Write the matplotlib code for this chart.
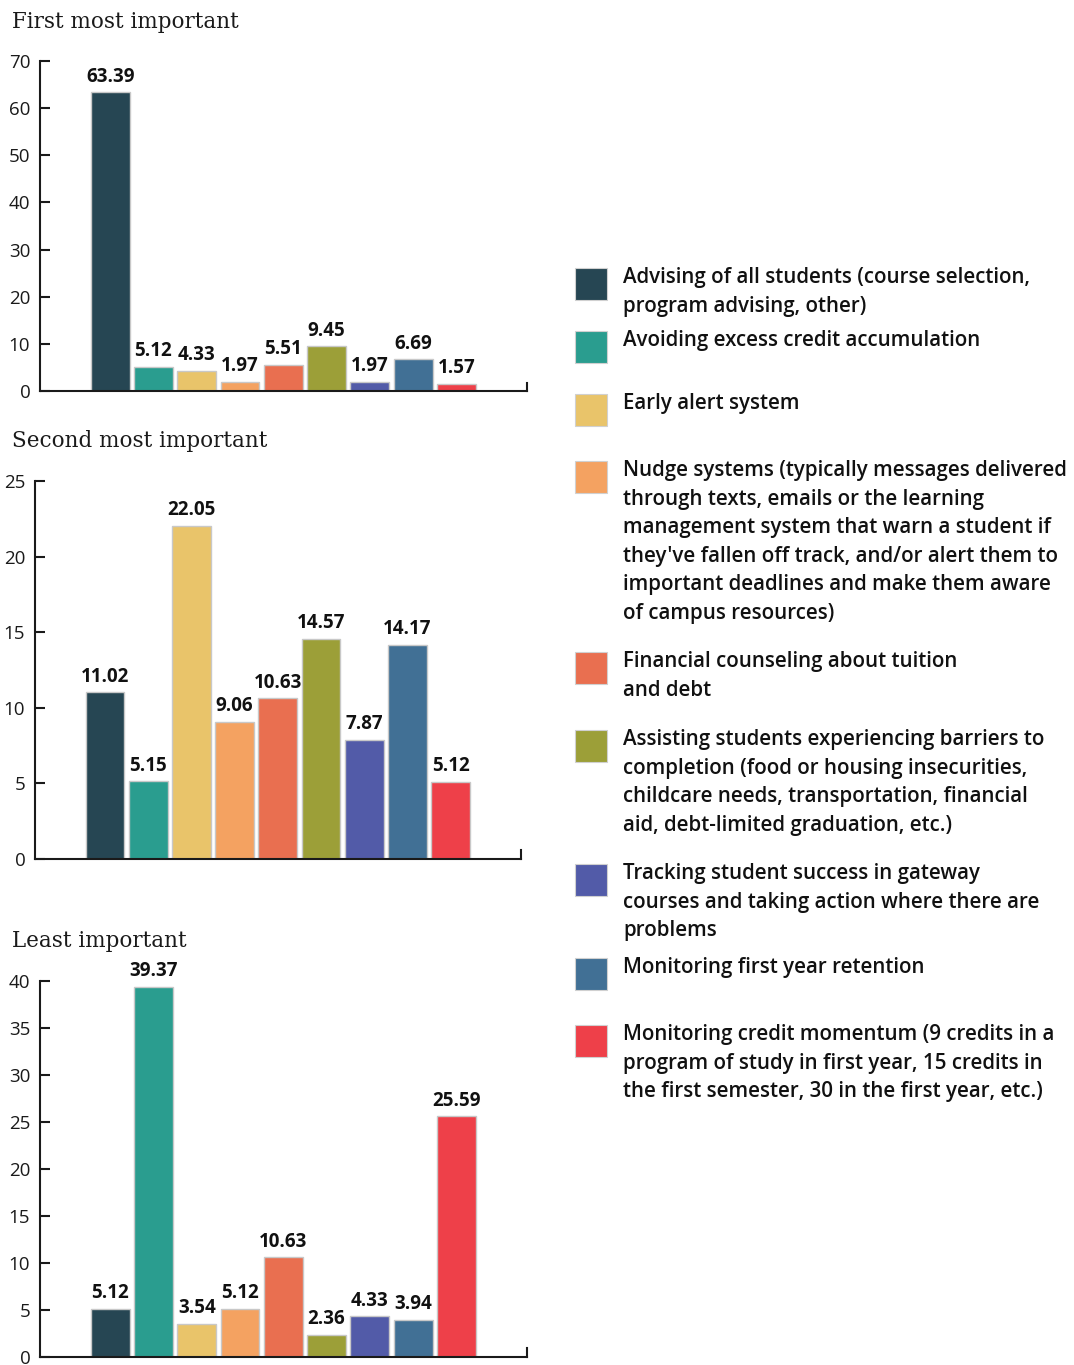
import matplotlib.pyplot as plt
from matplotlib.patches import Rectangle

W, H = 1074, 1365

categories = [
    "Advising of all students (course selection,\nprogram advising, other)",
    "Avoiding excess credit accumulation",
    "Early alert system",
    "Nudge systems (typically messages delivered\nthrough texts, emails or the learning\n"
    "management system that warn a student if\nthey've fallen off track, and/or alert them to\n"
    "important deadlines and make them aware\nof campus resources)",
    "Financial counseling about tuition\nand debt",
    "Assisting students experiencing barriers to\ncompletion (food or housing insecurities,\n"
    "childcare needs, transportation, financial\naid, debt-limited graduation, etc.)",
    "Tracking student success in gateway\ncourses and taking action where there are\nproblems",
    "Monitoring first year retention",
    "Monitoring credit momentum (9 credits in a\nprogram of study in first year, 15 credits in\n"
    "the first semester, 30 in the first year, etc.)",
]
colors = ["#264653", "#2A9D8F", "#E9C46A", "#F4A261", "#E96F50",
          "#9C9F38", "#525BA8", "#417095", "#EE4049"]

first = [63.39, 5.12, 4.33, 1.97, 5.51, 9.45, 1.97, 6.69, 1.57]
second = [11.02, 5.15, 22.05, 9.06, 10.63, 14.57, 7.87, 14.17, 5.12]
least = [5.12, 39.37, 3.54, 5.12, 10.63, 2.36, 4.33, 3.94, 25.59]
titles = ["First most important", "Second most important", "Least important"]
y_max = [70, 25, 40]
y_step = [10, 5, 5]

sans = ["Open Sans", "DejaVu Sans"]
serif = ["DejaVu Serif"]

fig = plt.figure(figsize=(W / 100, H / 100), dpi=100)

# panel boxes in pixels: left, top, right, bottom, title y
boxes = [(40, 61, 527, 391, 22), (35, 481, 521, 859, 441), (40, 981, 527, 1357, 941)]
series = [first, second, least]

for data, title, ymax, step, (l, t, r, b, ty) in zip(series, titles, y_max, y_step, boxes):
    ax = fig.add_axes([l / W, 1 - b / H, (r - l) / W, (b - t) / H])
    x = list(range(len(data)))
    bars = ax.bar(x, data, width=0.9, color=colors, edgecolor="#c8c8c8", linewidth=1)
    for bar, v in zip(bars, data):
        ax.annotate(f"{v:.2f}", (bar.get_x() + bar.get_width() / 2, v),
                    xytext=(0, 4), textcoords="offset points", ha="center", va="bottom",
                    fontsize=13.5, fontweight="bold", family=sans, color="#111111")
    ax.set_xlim(-1.62, 9.63)
    ax.set_ylim(0, ymax)
    ax.set_yticks(range(0, ymax + 1, step))
    ax.set_xticks([])
    for s in ["top", "right"]:
        ax.spines[s].set_visible(False)
    for s in ["left", "bottom"]:
        ax.spines[s].set_linewidth(1.5)
        ax.spines[s].set_color("#1a1a1a")
    ax.tick_params(axis="y", direction="in", length=7, width=1.5, pad=7,
                   labelsize=13.5, colors="#1a1a1a")
    for lab in ax.get_yticklabels():
        lab.set_family(sans)
    ax.plot([1, 1], [0, 0.025], transform=ax.transAxes, color="#1a1a1a",
            lw=1.5, clip_on=False)
    fig.text(12 / W, 1 - ty / H, title, family=serif, fontsize=15.5,
             va="center", ha="left", color="#1a1a1a")

# legend
sq_top = [268, 331, 394, 461, 652, 730, 864, 958, 1025]
for cat, c, top in zip(categories, colors, sq_top):
    fig.patches.append(Rectangle((575 / W, 1 - (top + 32) / H), 32 / W, 32 / H,
                                 transform=fig.transFigure, facecolor=c,
                                 edgecolor="#d0d0d0", linewidth=0.8))
    fig.text(623 / W, 1 - (top - 1) / H, cat, family=sans, fontsize=14.8,
             fontweight="semibold", va="top", ha="left", linespacing=1.47,
             color="#111111")

fig.savefig("out.png", dpi=100, facecolor="white")
